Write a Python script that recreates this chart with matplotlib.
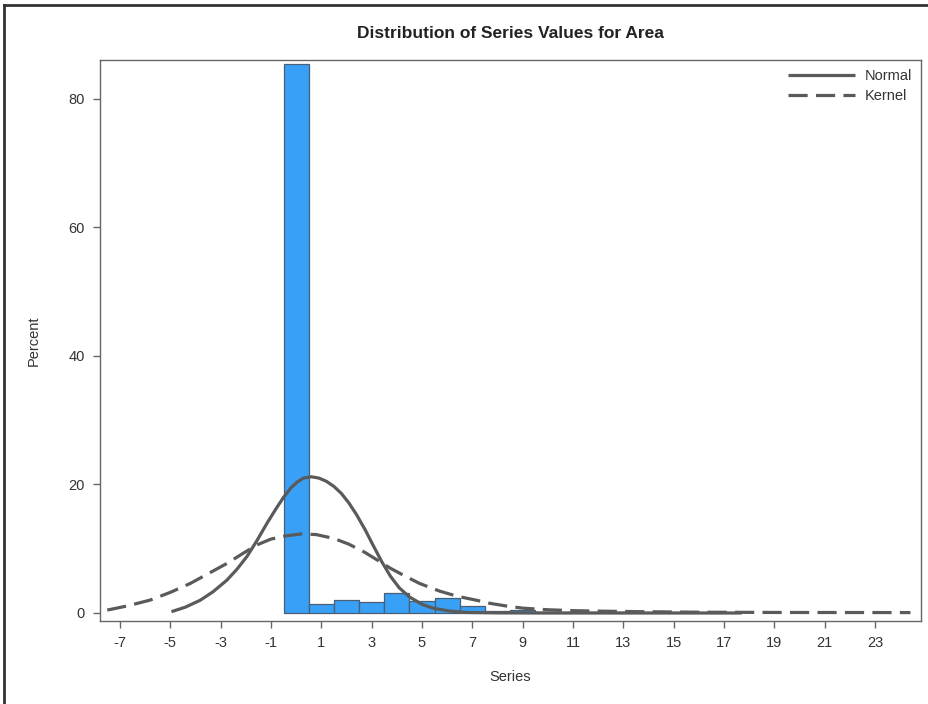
import matplotlib
matplotlib.use("Agg")
import matplotlib.pyplot as plt
from matplotlib.lines import Line2D

plt.rcParams['font.family'] = ['Liberation Sans', 'DejaVu Sans']
plt.rcParams['axes.unicode_minus'] = False

# histogram bins (centers, width 1) and percent per bin
bin_centers = [0, 1, 2, 3, 4, 5, 6, 7, 8, 9, 10, 11, 12, 13, 14, 15, 16, 17]
bin_percent = [85.4, 1.35, 1.95, 1.75, 3.05, 1.9, 2.4, 1.1, 0.25, 0.5,
               0.2, 0.15, 0.1, 0.1, 0.05, 0.05, 0.05, 0.05]

# fitted normal curve
normal_x = [-4.95, -4.4, -3.8, -3.3, -2.75, -2.35, -1.95, -1.55, -1.15, -0.8,
            -0.5, -0.2, 0.05, 0.3, 0.6, 0.9, 1.2, 1.5, 1.8, 2.1, 2.4, 2.75,
            3.05, 3.4, 3.75, 4.1, 4.5, 5.0, 5.45, 6.1, 6.8, 8.0, 10.0, 13.0, 17.7]
normal_y = [0.2, 0.9, 2.0, 3.3, 5.1, 6.8, 8.8, 11.3, 14.0, 16.2,
            18.0, 19.5, 20.4, 21.0, 21.2, 21.0, 20.5, 19.7, 18.6, 17.1, 15.3, 12.9,
            10.6, 8.0, 5.7, 3.9, 2.5, 1.35, 0.73, 0.3, 0.08, 0.02, 0.0, 0.0, 0.0]

# kernel density curve
kernel_x = [-7.5, -6.7, -5.8, -5.0, -4.2, -3.5, -2.75, -2.1, -1.55, -1.0,
            -0.4, 0.2, 0.8, 1.5, 2.1, 2.7, 3.2, 3.75, 4.3, 4.9, 5.7,
            6.4, 7.2, 7.7, 8.4, 9.0, 10.0, 11.0, 12.3, 13.7, 16.0, 19.0, 24.4]
kernel_y = [0.45, 1.1, 2.0, 3.2, 4.6, 6.1, 7.7, 9.3, 10.6, 11.5,
            12.0, 12.3, 12.2, 11.6, 10.7, 9.5, 8.3, 6.95, 5.8, 4.6, 3.4,
            2.6, 1.95, 1.5, 1.05, 0.75, 0.5, 0.36, 0.27, 0.2, 0.12, 0.08, 0.06]

x_ticks = list(range(-7, 24, 2))
y_ticks = [0, 20, 40, 60, 80]

fig = plt.figure(figsize=(9.29, 7.04), dpi=100)
ax = fig.add_axes([0.1076, 0.1179, 0.8838, 0.7969])

ax.bar(bin_centers, bin_percent, width=1.0, color='#38a0f7',
       edgecolor='#4a5f74', linewidth=0.9, zorder=2)

curve_col = '#5a5a5a'
ax.plot(normal_x, normal_y, color=curve_col, lw=2.3, solid_capstyle='butt',
        solid_joinstyle='round', label='Normal', zorder=3)
ax.plot(kernel_x, kernel_y, color=curve_col, lw=2.3, dashes=(6, 2.6),
        label='Kernel', zorder=3)

ax.set_xlim(-7.79, 24.82)
ax.set_ylim(-1.25, 86.07)
ax.set_xticks(x_ticks)
ax.set_yticks(y_ticks)

for s in ax.spines.values():
    s.set_color('#666666')
    s.set_linewidth(1.0)
ax.tick_params(axis='both', direction='out', length=5, width=1,
               color='#666666', labelcolor='#333333', labelsize=10.5, pad=6)

ax.set_xlabel('Series', fontsize=10.5, color='#333333', labelpad=14)
ax.set_ylabel('Percent', fontsize=10.5, color='#333333', labelpad=20)
ax.set_title('Distribution of Series Values for Area', fontsize=12.5,
             fontweight='bold', color='#222222', pad=16)

ax.legend(loc='upper right', frameon=False, fontsize=10.5, handlelength=4.6,
          handletextpad=0.7, labelspacing=0.45, borderaxespad=0.2,
          labelcolor='#333333')

# outer frame from the original screenshot (top and left edges)
fig.add_artist(Line2D([4 / 929, 4 / 929], [0, 1 - 5 / 704],
                      transform=fig.transFigure, color='#333333', lw=2))
fig.add_artist(Line2D([4 / 929, 1], [1 - 5 / 704, 1 - 5 / 704],
                      transform=fig.transFigure, color='#333333', lw=2))

fig.savefig('out.png', dpi=100)
